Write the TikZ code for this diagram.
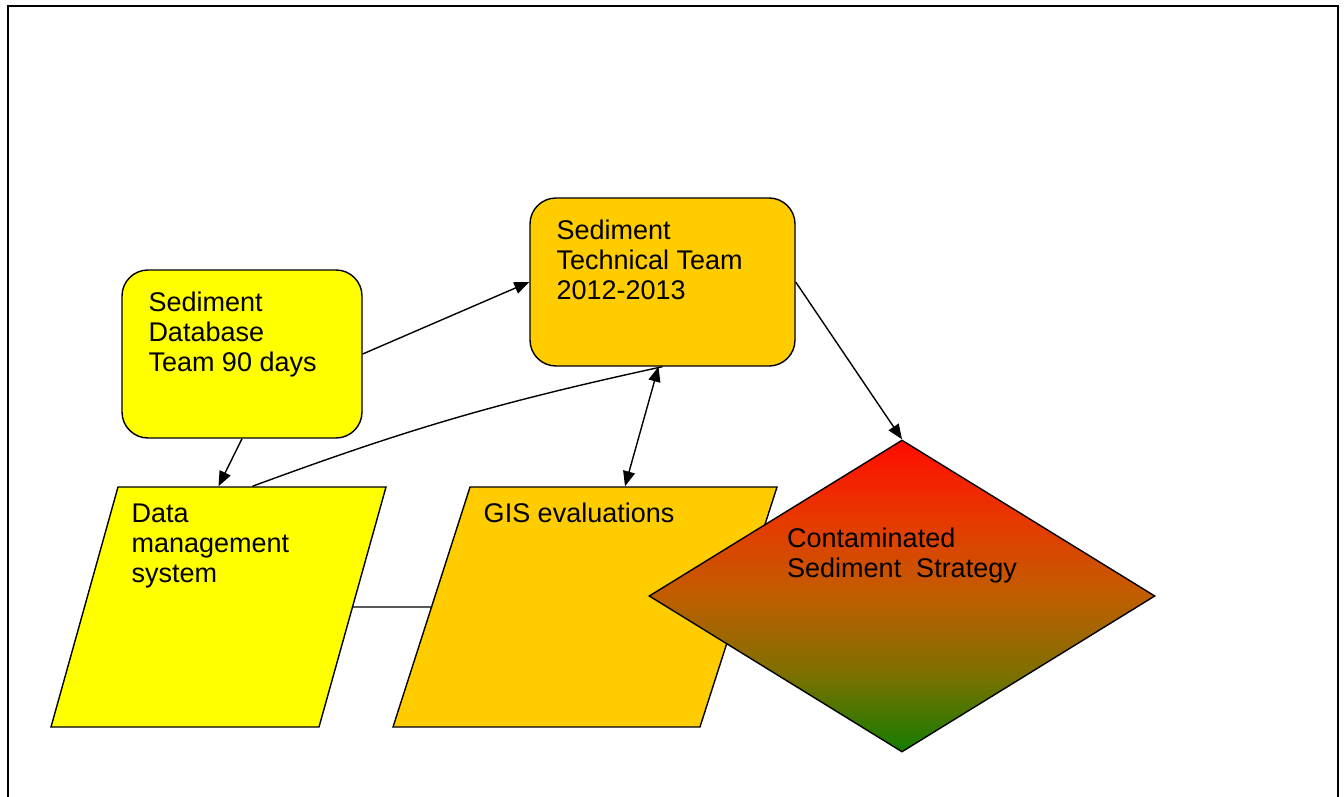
\documentclass[tikz,border=0pt]{standalone}
\usepackage{fontspec}
\setmainfont{Liberation Sans}
\usetikzlibrary{shapes.geometric,arrows.meta}
\definecolor{amarelo}{RGB}{255,255,0}
\definecolor{ouro}{RGB}{255,204,0}
\definecolor{vermelho}{RGB}{255,12,0}
\definecolor{laranja}{RGB}{232,56,0}
\definecolor{meio}{RGB}{192,94,0}
\definecolor{oliva}{RGB}{125,112,0}
\definecolor{verde}{RGB}{20,125,0}
\pgfdeclareverticalshading{vermelhoverde}{100bp}{color(0bp)=(verde); color(25bp)=(verde);
    color(37.5bp)=(oliva); color(50bp)=(meio); color(62.5bp)=(laranja);
    color(75bp)=(vermelho); color(100bp)=(vermelho)}
\begin{document}
\begin{tikzpicture}[x=1pt, y=-1pt, >={Triangle[length=15pt,width=12pt]},
    caixa/.style={draw, line width=1.4pt, rounded corners=26pt, inner sep=0pt},
    para/.style={draw, line width=1.4pt, trapezium, trapezium stretches body,
        text height=240pt, text depth=0pt, inner sep=0pt},
    texto/.style={anchor=base west, inner sep=0pt, align=left,
        font=\fontsize{27}{30}\selectfont},
    seta/.style={line width=1.4pt}]
    \useasboundingbox (0,0) rectangle (1344,797);
    % Moldura
    \draw[line width=2.2pt] (8,840) -- (8,6) -- (1338,6) -- (1338,840);

    % Caixas
    \node[caixa, fill=amarelo, minimum width=240pt, minimum height=168pt] (db) at (242,354) {};
    \node[caixa, fill=ouro, minimum width=265pt, minimum height=168pt] (tech) at (662.5,282) {};
    \node[para, fill=amarelo, minimum width=335pt,
        trapezium left angle=74.4, trapezium right angle=105.6] (dms) at (218.5,607) {};
    \node[para, fill=ouro, minimum width=384pt,
        trapezium left angle=72.2, trapezium right angle=107.8] (gis) at (585,607) {};
    \node[draw, diamond, line width=1.4pt, inner sep=0pt, minimum width=506pt, minimum height=312pt,
        shading=vermelhoverde] (css) at (902,596) {};

    % Textos (ancorados na ultima linha)
    \node[texto] (dbtxt) at ([shift={(27,102)}]db.north west) {Sediment\\Database\\Team 90 days};
    \node[texto] (techtxt) at ([shift={(27,102)}]tech.north west) {Sediment\\Technical Team\\2012-2013};
    \node[texto] (dmstxt) at ([shift={(14,96)}]dms.top left corner) {Data\\management\\system};
    \node[texto] (gistxt) at ([shift={(14,36)}]gis.top left corner) {GIS evaluations};
    \node[texto] (csstxt) at ([shift={(-115,-19)}]css.center) {Contaminated\\Sediment\ \ Strategy};

    % Ligacoes
    \draw[seta, ->] (db.south) -- (dms.north);
    \draw[seta, ->] (db.east) -- (tech.west);
    \draw[seta] ([xshift=34pt]dms.north) to[bend left=4] (tech.south);
    \draw[seta, <->] ([xshift=-4pt]tech.south) -- ([xshift=40pt]gis.north);
    \draw[seta, ->] (tech.east) -- (css.north);
    \draw[seta] (dms.east) -- (gis.west);
\end{tikzpicture}
\end{document}
